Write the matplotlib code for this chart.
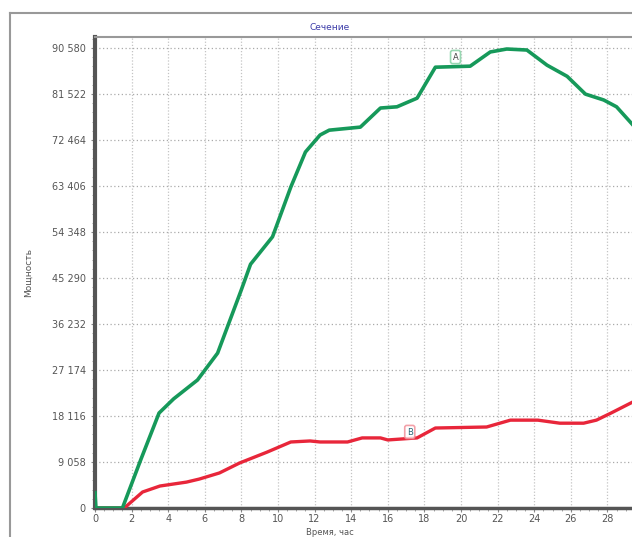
import matplotlib.pyplot as plt
import matplotlib.ticker as ticker
from matplotlib.lines import Line2D

# кривая A (зелёная)
a_t = [0, 0.05, 1.5, 2.5, 3.5, 4.3, 5.6, 6.7, 8.0, 8.5, 9.7, 10.7, 11.5, 12.3, 12.8,
       14.5, 15.6, 16.5, 17.6, 18.6, 20.5, 21.6, 22.5, 23.6, 24.7, 25.8, 26.8, 27.8,
       28.5, 29.4, 30]
a_p = [3000, 0, 0, 9500, 18700, 21500, 25200, 30500, 43000, 48000, 53400, 63200, 70100,
       73450, 74400, 75000, 78760, 79000, 80700, 86800, 87000, 89800, 90380, 90180,
       87200, 85000, 81500, 80340, 79000, 75400, 72000]

# кривая B (красная)
b_t = [0, 1.6, 2.6, 3.55, 5.0, 5.7, 6.8, 7.9, 9.4, 10.7, 11.75, 12.3, 13.8, 14.6, 15.6,
       16, 17.6, 18.6, 21.4, 22.7, 24.2, 25.4, 26.7, 27.4, 28.2, 29.4, 30]
b_p = [0, 0, 3150, 4330, 5100, 5700, 6900, 8860, 11000, 13000, 13200, 13000, 13000, 13800,
       13800, 13400, 13800, 15750, 15950, 17300, 17300, 16700, 16700, 17300, 18700, 20900,
       21500]

yticks = [0, 9058, 18116, 27174, 36232, 45290, 54348, 63406, 72464, 81522, 90580]
xticks = list(range(0, 29, 2))

fig = plt.figure(figsize=(6.32, 5.37), dpi=100)
ax = fig.add_axes([95/632, 29/537, 549/632, 471/537])

ax.plot(b_t, b_p, color='#e8263a', lw=2.4, zorder=3)
ax.plot(a_t, a_p, color='#16995a', lw=2.6, zorder=4)

ax.text(19.7, 88800, 'A', fontsize=6, color='#444444', ha='center', va='center', zorder=5,
        bbox=dict(boxstyle='round,pad=0.25', fc='white', ec='#7fcf9f', lw=1.2, alpha=0.8))
ax.text(17.2, 14965, 'B', fontsize=6, color='#2a6a7a', ha='center', va='center', zorder=5,
        bbox=dict(boxstyle='round,pad=0.25', fc='white', ec='#f08a94', lw=1.2, alpha=0.8))

ax.set_xlim(0, 30)
ax.set_ylim(0, 92746)
ax.set_xticks(xticks)
ax.set_yticks(yticks)
ax.yaxis.set_major_formatter(ticker.FuncFormatter(lambda v, p: '{:,}'.format(int(v)).replace(',', ' ')))
ax.xaxis.set_minor_locator(ticker.MultipleLocator(0.5))
ax.yaxis.set_minor_locator(ticker.MultipleLocator(9058 / 5))
ax.tick_params(axis='both', which='major', labelsize=7, labelcolor='#555555', color='#888888', length=3)
ax.tick_params(axis='x', which='major', pad=1)
ax.tick_params(axis='both', which='minor', color='#999999', length=2)

ax.grid(True, axis='y', color='#aaaaaa', linestyle=(0, (1, 2)), lw=0.9)
ax.grid(True, axis='x', color='#c4c4c4', linestyle=(0, (1, 1.5)), lw=0.9)
ax.axvline(30, color='#c4c4c4', linestyle=(0, (1, 1.5)), lw=0.9)

ax.spines['right'].set_visible(False)
ax.spines['left'].set_color('#555555')
ax.spines['left'].set_linewidth(3)
ax.spines['bottom'].set_color('#555555')
ax.spines['bottom'].set_linewidth(2.5)
ax.spines['top'].set_color('#999999')
ax.spines['top'].set_linewidth(1.5)

ax.set_xlabel('Время, час', fontsize=6, color='#555555')
ax.set_ylabel('Мощность', fontsize=6.5, color='#555555', labelpad=14)
ax.xaxis.set_label_coords((330 - 95) / 549, -0.043)

fig.text(330/632, 1 - 27/537, 'Сечение', fontsize=6.5, color='#3a3aa8', ha='center', va='center')

# рамка окна
fig.add_artist(Line2D([10/632, 10/632], [0, 1 - 13/537], color='#999999', lw=1.5))
fig.add_artist(Line2D([10/632, 1], [1 - 13/537, 1 - 13/537], color='#999999', lw=1.5))

fig.savefig('out.png', dpi=100)
